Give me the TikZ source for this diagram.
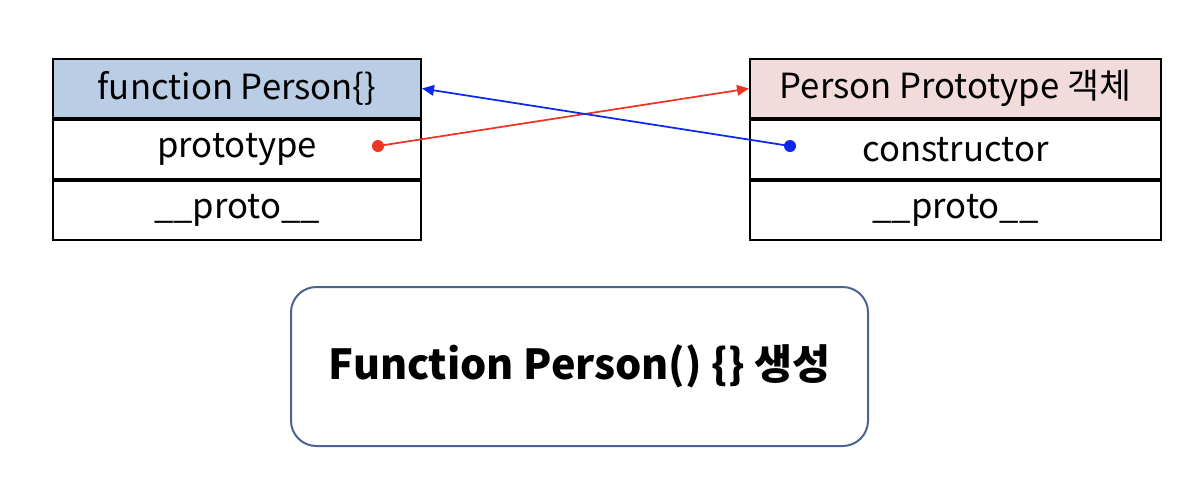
\documentclass[tikz,border=0pt]{standalone}
\usepackage{fontspec}
\setmainfont{Noto Sans CJK KR}
\usepackage{tikz}
\usetikzlibrary{arrows.meta,positioning}
\definecolor{HeadBlue}{HTML}{B9CDE5}
\definecolor{HeadPink}{HTML}{F2DCDB}
\definecolor{FrameBlue}{HTML}{4A6491}
\definecolor{LinkRed}{HTML}{EE3524}
\definecolor{LinkBlue}{HTML}{0A28F0}

\begin{document}
\begin{tikzpicture}[
    x=0.75pt, y=-0.75pt,
    font=\fontsize{26}{30}\selectfont,
    cell/.style={draw=black, line width=1.5pt, fill=white, minimum height=44.25pt, inner sep=0pt, anchor=center},
    leftcell/.style={cell, minimum width=276pt},
    rightcell/.style={cell, minimum width=308.25pt},
    dot/.style={circle, inner sep=0pt, minimum size=9pt},
    link/.style={-{Triangle[length=9pt,width=8pt]}, line width=1.3pt}
]
\useasboundingbox (0,0) rectangle (1200,480);
% left table
\node[leftcell, fill=HeadBlue] (fn) at (237,88.5) {function Person\{\}};
\node[leftcell, below=0pt of fn] (fnproto) {prototype};
\node[leftcell, below=0pt of fnproto] (fnunder) {\_\_proto\_\_};
% right table
\node[rightcell, fill=HeadPink] (pp) at (955.5,88.5) {Person Prototype 객체};
\node[rightcell, below=0pt of pp] (ppcons) {constructor};
\node[rightcell, below=0pt of ppcons] (ppunder) {\_\_proto\_\_};
% caption box
\node[draw=FrameBlue, line width=1.5pt, rounded corners=19pt, minimum width=432.75pt, minimum height=119.25pt,
      font=\fontsize{31}{36}\selectfont\bfseries] (cap) at (579.5,366.5) {Function Person() \{\} 생성};
% links
\node[dot, fill=LinkRed] (rdot) at (378,146) {};
\node[dot, fill=LinkBlue] (bdot) at (790,146) {};
\draw[link, LinkRed] (rdot.center) -- (pp.west);
\draw[link, LinkBlue] (bdot.center) -- (fn.east);
\end{tikzpicture}
\end{document}
